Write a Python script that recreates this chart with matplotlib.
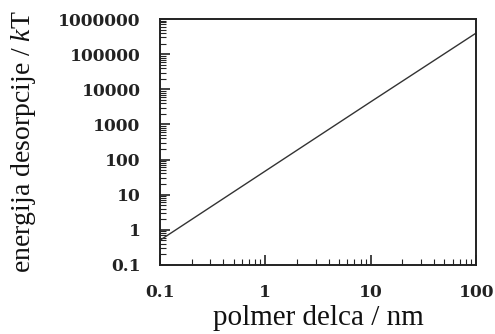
import numpy as np
import matplotlib
matplotlib.use("Agg")
import matplotlib.pyplot as plt

# data (log-log straight line)
size_nm = [0.1, 1, 10, 100]
energy_kT = [0.5, 47, 4400, 400000]

xticks = [0.1, 1, 10, 100]
xticklabels = ["0.1", "1", "10", "100"]
yticks = [0.1, 1, 10, 100, 1000, 10000, 100000, 1000000]
yticklabels = ["0.1", "1", "10", "100", "1000", "10000", "100000", "1000000"]

plt.rcParams['font.family'] = ['Liberation Serif', 'DejaVu Serif']
plt.rcParams['mathtext.fontset'] = 'custom'
plt.rcParams['mathtext.rm'] = 'Liberation Serif'
plt.rcParams['mathtext.it'] = 'Liberation Serif:italic'


def main():
    fig = plt.figure(figsize=(4.95, 3.34), dpi=100)
    ax = fig.add_axes([0.323, 0.207, 0.639, 0.736])

    ax.plot(size_nm, energy_kT, '-', color='#333333', lw=1.0)

    ax.set_xscale('log')
    ax.set_yscale('log')
    ax.set_xlim(0.1, 100)
    ax.set_ylim(0.1, 1000000)

    ax.set_xticks(xticks)
    ax.set_xticklabels(xticklabels)
    ax.set_yticks(yticks)
    ax.set_yticklabels(yticklabels)

    for s in ax.spines.values():
        s.set_linewidth(1.4)
        s.set_color('#222222')

    ax.tick_params(which='both', direction='in', top=False, right=False,
                   color='#222222')
    ax.tick_params(which='major', length=7, width=1.2, pad=14)
    ax.tick_params(which='minor', length=4, width=0.8)
    for lab in ax.get_xticklabels() + ax.get_yticklabels():
        lab.set_family('DejaVu Serif')
        lab.set_fontweight('bold')
        lab.set_fontsize(12.3)
        lab.set_color('#222222')

    ax.set_xlabel('polmer delca / nm', fontsize=21, labelpad=2.5, color='#111111')
    ax.set_ylabel('energija desorpcije / $k$T', fontsize=20, labelpad=14,
                  color='#111111')

    fig.savefig('out.png', dpi=100)


if __name__ == "__main__":
    main()
